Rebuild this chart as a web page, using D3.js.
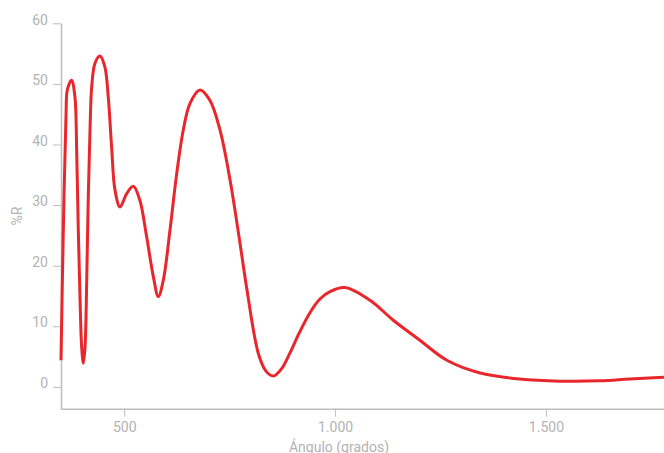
<!DOCTYPE html>
<html>
<head>
<meta charset="utf-8">
<script src="https://cdn.jsdelivr.net/npm/d3@7"></script>
<style>
  html, body { margin: 0; padding: 0; background: #fff; }
  svg { display: block; font-family: Roboto, "Noto Sans", sans-serif; }
</style>
</head>
<body>
<svg id="chart" width="664" height="453"></svg>
<script>
// angle (grados) vs reflectance (%R)
const angles = [350, 355.5, 362, 365, 375, 383, 387, 391, 395, 399, 403, 407, 411, 414.7, 418.8, 422.8, 430.6, 442.5, 454, 462, 470, 478, 490, 505.8, 521.5, 537, 553, 569, 580.7, 592.6, 608.5, 624.4, 640, 656, 679.6, 703, 727, 751, 774.5, 790, 818, 836, 853.5, 872, 893, 915, 940, 964, 990, 1023.5, 1082.7, 1138, 1201, 1265, 1344, 1438, 1533, 1628, 1699, 1780];
const reflect = [4.4, 25.9, 45.1, 49.0, 50.6, 47.9, 39.6, 25.9, 14.9, 6.6, 3.9, 6.6, 17.6, 31.4, 42.4, 49.5, 53.4, 54.6, 52.8, 47.9, 39.6, 32.5, 29.7, 31.9, 33.1, 30.8, 24.8, 18.2, 14.9, 17.6, 25.9, 35.2, 42.4, 46.8, 49.0, 47.3, 42.4, 34.1, 23.7, 16.5, 5.5, 2.6, 1.8, 2.9, 5.6, 8.9, 12.2, 14.5, 15.8, 16.4, 14.3, 11.0, 7.7, 4.4, 2.3, 1.3, 0.95, 1.0, 1.3, 1.6];
const xTicks = [500, 1000, 1500];
const yTicks = [0, 10, 20, 30, 40, 50, 60];

const svg = d3.select('#chart');
const margin = { top: 23.3, right: 0, bottom: 44.3, left: 61 };
const width = +svg.attr('width');
const height = +svg.attr('height');

const locale = d3.formatLocale({ decimal: ',', thousands: '.', grouping: [3], currency: ['', ''] });
const fmt = locale.format(',');

const x = d3.scaleLinear()
  .domain([350, 1780])
  .range([margin.left, width - margin.right]);

const y = d3.scaleLinear()
  .domain([-3.6, 60])
  .range([height - margin.bottom, margin.top]);

const axisColor = '#bdbdbd';
const textColor = '#b3b3b3';

// x axis
const gx = svg.append('g')
  .attr('transform', `translate(0,${height - margin.bottom})`)
  .call(d3.axisBottom(x).tickValues(xTicks).tickFormat(fmt).tickSize(8).tickSizeOuter(0).tickPadding(5));

// y axis
const gy = svg.append('g')
  .attr('transform', `translate(${margin.left},0)`)
  .call(d3.axisLeft(y).tickValues(yTicks).tickSize(8).tickSizeOuter(0).tickPadding(5));

gy.selectAll('.tick text').attr('dy', '0.05em');

[gx, gy].forEach(g => {
  g.select('.domain').attr('stroke', axisColor).attr('stroke-width', 1.5);
  g.selectAll('.tick line').attr('stroke', axisColor);
  g.selectAll('.tick text')
    .attr('fill', textColor)
    .style('font-size', '14px')
    .style('font-family', 'Roboto, sans-serif');
});

// axis titles
svg.append('text')
  .attr('x', 339)
  .attr('y', 451.5)
  .attr('text-anchor', 'middle')
  .attr('fill', textColor)
  .style('font-size', '14px')
  .text('Ángulo (grados)');

svg.append('text')
  .attr('transform', `translate(22,${(margin.top + height - margin.bottom) / 2}) rotate(-90)`)
  .attr('text-anchor', 'middle')
  .attr('fill', textColor)
  .style('font-size', '14px')
  .text('%R');

// curve
const data = angles.map((a, i) => ({ a, r: reflect[i] }));
const line = d3.line()
  .x(d => x(d.a))
  .y(d => y(d.r))
  .curve(d3.curveCatmullRom.alpha(0.5));

svg.append('path')
  .datum(data)
  .attr('fill', 'none')
  .attr('stroke', '#e8262b')
  .attr('stroke-width', 3)
  .attr('stroke-linejoin', 'round')
  .attr('d', line);
</script>
</body>
</html>
